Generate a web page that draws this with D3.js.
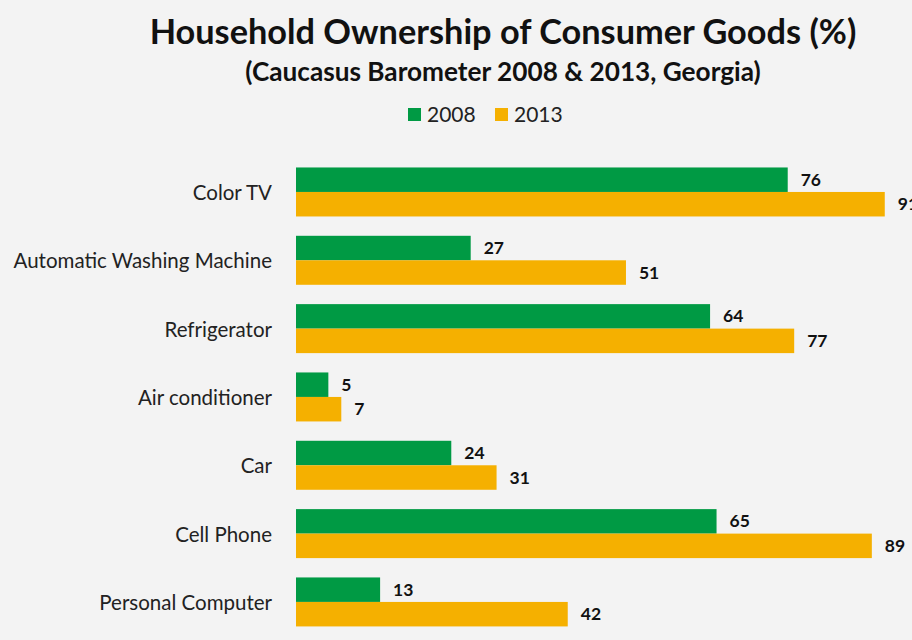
<!DOCTYPE html>
<html><head><meta charset="utf-8">
<script src="https://cdn.jsdelivr.net/npm/d3@7"></script>
<style>
html,body{margin:0;padding:0;background:#f3f3f3;}
svg{display:block;font-family:Lato,"Open Sans",sans-serif;}
</style></head>
<body><svg id="c" width="912" height="640"></svg>
<script>
const categories = ["Color TV","Automatic Washing Machine","Refrigerator","Air conditioner","Car","Cell Phone","Personal Computer"];
const values2008 = [76,27,64,5,24,65,13];
const values2013 = [91,51,77,7,31,89,42];
const seriesNames = ["2008","2013"];
const colors = ["#009a44","#f5b000"];

const svg = d3.select("#c");
svg.append("rect").attr("width",912).attr("height",640).attr("fill","#f3f3f3");

const x = d3.scaleLinear().domain([0,100]).range([296,296+647]);
const y = d3.scaleBand().domain(categories).range([157.8,636.1]).paddingInner(0.283).paddingOuter(0.1415);
const sub = d3.scaleBand().domain(seriesNames).range([0,y.bandwidth()]);

svg.append("text").attr("x",503).attr("y",44).attr("text-anchor","middle")
  .attr("font-size",34.3).attr("font-weight","bold").attr("fill","#111")
  .text("Household Ownership of Consumer Goods (%)");
svg.append("text").attr("x",503).attr("y",81).attr("text-anchor","middle")
  .attr("font-size",26.2).attr("font-weight","bold").attr("fill","#111")
  .text("(Caucasus Barometer 2008 & 2013, Georgia)");

const leg = svg.append("g");
const legX = [408,495];
seriesNames.forEach((s,i)=>{
  leg.append("rect").attr("x",legX[i]).attr("y",108).attr("width",13).attr("height",13).attr("fill",colors[i]);
  leg.append("text").attr("x",legX[i]+19).attr("y",121.5).attr("font-size",21).attr("fill","#222").text(s);
});

const data = categories.map((c,i)=>({c, vals:[values2008[i],values2013[i]]}));
const g = svg.append("g");
data.forEach(d=>{
  d.vals.forEach((v,j)=>{
    const yy = y(d.c)+sub(seriesNames[j]);
    g.append("rect").attr("x",x(0)).attr("y",yy).attr("width",x(v)-x(0)).attr("height",sub.bandwidth())
      .attr("fill",colors[j]);
    g.append("text").attr("x",x(v)+13).attr("y",yy+sub.bandwidth()/2+1.5)
      .attr("dominant-baseline","middle").attr("font-size",17.5).attr("font-weight","bold").attr("fill","#111").text(v);
  });
});

const axis = d3.axisLeft(y).tickSize(0).tickPadding(24);
const ag = svg.append("g").attr("transform",`translate(296,0)`).call(axis);
ag.select(".domain").remove();
ag.selectAll("text").attr("font-size",20.5).attr("fill","#222").attr("dy","0.4em").attr("font-family","Lato, 'Open Sans', sans-serif");
</script></body></html>
